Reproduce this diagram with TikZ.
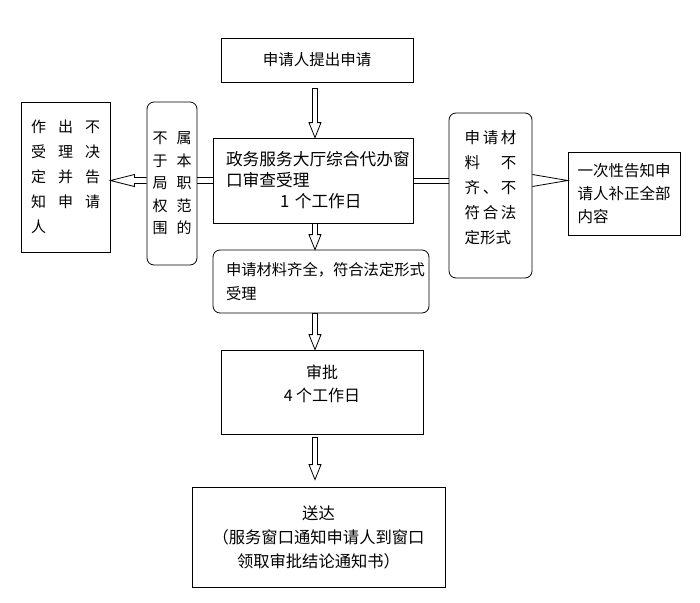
\documentclass[tikz,border=0pt]{standalone}
\usepackage{fontspec}
\setmainfont{Noto Sans CJK SC}
\usetikzlibrary{calc}
% hollow block arrows between boxes
\newcommand{\vblock}[2]{\draw[hollow] let \p1=(#1), \p2=(#2) in
    (\x1-2.5pt,\y1) -- (\x1-2.5pt,\y2+15pt) -- (\x1-6pt,\y2+15pt) -- (\x1,\y2)
    -- (\x1+6pt,\y2+15pt) -- (\x1+2.5pt,\y2+15pt) -- (\x1+2.5pt,\y1) -- cycle;}
\newcommand{\lblock}[2]{\draw[hollow] let \p1=(#1), \p2=(#2) in
    (\x1,\y1+3pt) -- (\x2+24pt,\y1+3pt) -- (\x2+24pt,\y1+6pt) -- (\x2,\y1)
    -- (\x2+24pt,\y1-6pt) -- (\x2+24pt,\y1-3pt) -- (\x1,\y1-3pt);}
\begin{document}
\begin{tikzpicture}[x=1pt,y=-1pt]
    \tikzset{box/.style = {shape=rectangle,draw,line width=0.8pt,inner sep=0pt,font=\fontsize{15.5}{21}\selectfont}}
    \tikzset{rbox/.style = {box,rounded corners=7pt}}
    \tikzset{hollow/.style = {line width=0.8pt,line join=miter}}
    \useasboundingbox (0,0) rectangle (700,602);
    % boxes in the middle
    \node[box,minimum width=192pt,minimum height=44pt] (apply) at (317,60) {申请人提出申请};
    \node[box,minimum width=200pt,minimum height=85pt,text width=174pt,align=left,
          font=\fontsize{16.7}{21}\selectfont] (review) at (313,180.5)
          {政务服务大厅综合代办窗\\口审查受理\\\hspace*{54pt}1 个工作日};
    \node[rbox,minimum width=216pt,minimum height=63pt,text width=190pt,align=left,
          font=\fontsize{15.3}{24}\selectfont] (complete) at (321,281.5)
          {申请材料齐全，符合法定形式\\受理};
    \node[box,minimum width=202pt,minimum height=84pt,align=center,
          font=\fontsize{16}{23}\selectfont] (approve) at (322,392)
          {审批\\4 个工作日\\[-6pt]\mbox{}};
    \node[box,minimum width=253pt,minimum height=100pt,align=center,
          font=\fontsize{16.3}{24}\selectfont] (deliver) at (318.5,537)
          {送达\\（服务窗口通知申请人到窗口\\领取审批结论通知书）};
    % boxes on the left
    \node[rbox,minimum width=50pt,minimum height=163pt,align=center,
          font=\fontsize{15}{22.5}\selectfont] (outside) at (172,183.5)
          {\makebox[39pt][s]{不\hfill 属}\\\makebox[39pt][s]{于\hfill 本}\\
           \makebox[39pt][s]{局\hfill 职}\\\makebox[39pt][s]{权\hfill 范}\\
           \makebox[39pt][s]{围\hfill 的}};
    \node[box,minimum width=89pt,minimum height=150pt,align=left,
          font=\fontsize{15}{25}\selectfont] (refuse) at (65.5,177)
          {\makebox[69pt][s]{作\hfill 出\hfill 不}\\\makebox[69pt][s]{受\hfill 理\hfill 决}\\
           \makebox[69pt][s]{定\hfill 并\hfill 告}\\\makebox[69pt][s]{知\hfill 申\hfill 请}\\人};
    % boxes on the right
    \node[rbox,minimum width=83pt,minimum height=165pt,align=left,
          font=\fontsize{15.5}{25}\selectfont] (missing) at (490.5,195.5)
          {\makebox[52pt][s]{申\hfill 请\hfill 材}\\\makebox[52pt][s]{料\hfill 不}\\
           \makebox[52pt][s]{齐\hfill 、\hfill 不}\\\makebox[52pt][s]{符\hfill 合\hfill 法}\\
           定形式\\[-8pt]\mbox{}};
    \node[box,minimum width=112pt,minimum height=83pt,align=left,
          font=\fontsize{15.5}{23}\selectfont] (notify) at (624,193.5)
          {一次性告知申\\请人补正全部\\内容};
    % arrows down
    \coordinate (col) at (315,0);
    \vblock{$(apply.south -| col)+(0,6)$}{review.north -| col}
    \vblock{review.south -| col}{complete.north -| col}
    \vblock{complete.south -| col}{approve.north -| col}
    \vblock{$(approve.south -| col)+(0,3)$}{$(deliver.north -| col)+(0,-7)$}
    % arrows to the sides
    \draw[hollow] let \p1=(review.west), \p2=(outside.east |- review.west) in
        (\x2,\y1+3pt) -- (\x1,\y1+3pt) (\x2,\y1-3pt) -- (\x1,\y1-3pt);
    \lblock{outside.west |- review.west}{refuse.east |- review.west}
    \draw[hollow] let \p1=(review.east), \p2=(missing.west |- review.east) in
        (\x1,\y1+2.5pt) -- (\x2,\y1+2.5pt) (\x1,\y1-2.5pt) -- (\x2,\y1-2.5pt);
    \draw[hollow] let \p1=(missing.east |- review.east), \p2=(notify.west |- review.east) in
        (\x1,\y1+6pt) -- (\x2,\y1) -- (\x1,\y1-6pt);
\end{tikzpicture}
\end{document}
